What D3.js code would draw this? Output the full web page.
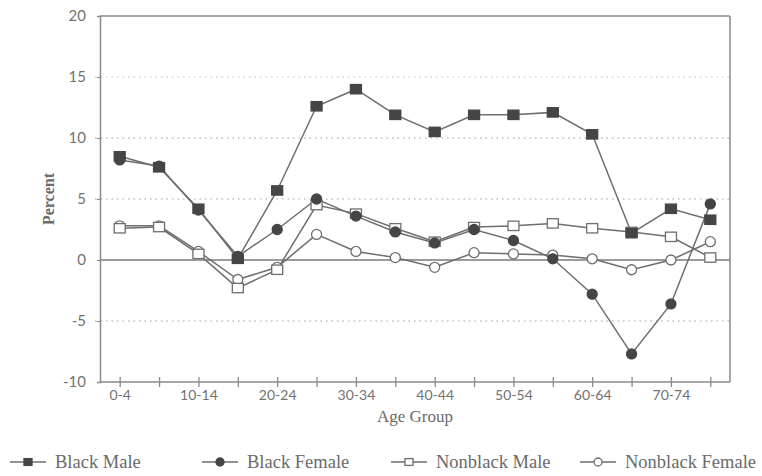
<!DOCTYPE html>
<html>
<head>
<meta charset="utf-8">
<script src="https://cdn.jsdelivr.net/npm/d3@7"></script>
<style>
  html, body { margin: 0; padding: 0; background: #fff; }
  svg { display: block; }
</style>
</head>
<body>
<svg id="chart" width="762" height="476"></svg>
<script>
// Age groups along the x axis
const ageGroups = ["0-4","5-9","10-14","15-19","20-24","25-29","30-34","35-39",
                   "40-44","45-49","50-54","55-59","60-64","65-69","70-74","75+"];
// Only every other group is labelled
const tickLabels = ["0-4","10-14","20-24","30-34","40-44","50-54","60-64","70-74"];
const yTicks = [-10, -5, 0, 5, 10, 15, 20];
const gridValues = [-5, 5, 10, 15];

// Percent change by age group
const blackMale      = [8.5, 7.6, 4.2, 0.1, 5.7, 12.6, 14.0, 11.9, 10.5, 11.9, 11.9, 12.1, 10.3, 2.2, 4.2, 3.3];
const blackFemale    = [8.2, 7.7, 4.1, 0.3, 2.5, 5.0, 3.6, 2.3, 1.4, 2.5, 1.6, 0.1, -2.8, -7.7, -3.6, 4.6];
const nonblackMale   = [2.6, 2.7, 0.5, -2.3, -0.8, 4.5, 3.8, 2.6, 1.5, 2.7, 2.8, 3.0, 2.6, 2.3, 1.9, 0.2];
const nonblackFemale = [2.8, 2.8, 0.7, -1.6, -0.6, 2.1, 0.7, 0.2, -0.6, 0.6, 0.5, 0.4, 0.1, -0.8, 0.0, 1.5];

const seriesNames = ["Black Male", "Black Female", "Nonblack Male", "Nonblack Female"];
const seriesData = [blackMale, blackFemale, nonblackMale, nonblackFemale];
const markerShape = ["square", "circle", "square", "circle"];
const markerFilled = [true, true, false, false];

const lineColor = "#6e6e6e";
const fillColor = "#454545";
const axisColor = "#8a8a8a";
const textColor = "#727272";
const tickFont = "Lato, 'Open Sans', sans-serif";
const serifFont = "'Liberation Serif', 'DejaVu Serif', serif";

const svg = d3.select("#chart");
const plotLeft = 100, plotRight = 730, plotTop = 16, plotBottom = 382;

const x = d3.scalePoint().domain(ageGroups).range([plotLeft, plotRight]).padding(0.5);
const y = d3.scaleLinear().domain([-10, 20]).range([plotBottom, plotTop]);

// dotted gridlines
svg.append("g").selectAll("line").data(gridValues).join("line")
  .attr("x1", plotLeft - 5).attr("x2", plotRight)
  .attr("y1", d => y(d)).attr("y2", d => y(d))
  .attr("stroke", d => d === 15 ? "#c4c4c4" : "#9e9e9e").attr("stroke-width", 1.2)
  .attr("stroke-dasharray", "1.5,4");

// frame: top and right border
svg.append("line").attr("x1", plotLeft).attr("x2", plotRight).attr("y1", y(20)).attr("y2", y(20))
  .attr("stroke", axisColor).attr("stroke-width", 1.5);
svg.append("line").attr("x1", plotRight).attr("x2", plotRight).attr("y1", y(20)).attr("y2", y(-10))
  .attr("stroke", axisColor).attr("stroke-width", 1.5);

// zero line
svg.append("line").attr("x1", plotLeft).attr("x2", plotRight).attr("y1", y(0)).attr("y2", y(0))
  .attr("stroke", "#7a7a7a").attr("stroke-width", 1.5);

// y axis
const yAxis = d3.axisLeft(y).tickValues(yTicks).tickSize(3).tickPadding(11)
  .tickFormat(d => String(d));
const gy = svg.append("g").attr("transform", `translate(${plotLeft},0)`).call(yAxis);
gy.select(".domain").attr("stroke", axisColor).attr("stroke-width", 1.5);
gy.selectAll(".tick line").attr("stroke", axisColor);
gy.selectAll(".tick text")
  .attr("fill", textColor)
  .style("font-family", tickFont)
  .style("font-size", "15px");

// x axis with ticks crossing the baseline
const xAxis = d3.axisBottom(x)
  .tickSizeInner(0).tickSizeOuter(0).tickPadding(8)
  .tickFormat(d => tickLabels.includes(d) ? d : "");
const gx = svg.append("g").attr("transform", `translate(0,${plotBottom})`).call(xAxis);
gx.select(".domain").attr("stroke", axisColor).attr("stroke-width", 1.5)
  .attr("d", `M${plotLeft},0H${plotRight}`);
gx.selectAll(".tick").append("line")
  .attr("y1", -5).attr("y2", 5).attr("stroke", axisColor).attr("stroke-width", 1.3);
gx.selectAll(".tick text")
  .attr("fill", textColor)
  .style("font-family", tickFont)
  .style("font-size", "14px");

// axis titles
svg.append("text")
  .attr("transform", `translate(54,${y(5)}) rotate(-90)`)
  .attr("text-anchor", "middle")
  .attr("fill", "#6a6a6a")
  .style("font-family", serifFont)
  .style("font-size", "16px").style("font-weight", "bold")
  .text("Percent");
svg.append("text")
  .attr("x", 415).attr("y", 422)
  .attr("text-anchor", "middle")
  .attr("fill", "#6a6a6a")
  .style("font-family", serifFont)
  .style("font-size", "17px")
  .text("Age Group");

function drawMarker(g, shape, filled, size) {
  if (shape === "square") {
    g.append("rect")
      .attr("x", -size / 2).attr("y", -size * 0.85 / 2)
      .attr("width", size).attr("height", size * 0.85)
      .attr("fill", filled ? fillColor : "#fff")
      .attr("stroke", filled ? fillColor : lineColor).attr("stroke-width", 1.3);
  } else {
    g.append("circle").attr("r", size / 2)
      .attr("fill", filled ? fillColor : "#fff")
      .attr("stroke", filled ? fillColor : lineColor).attr("stroke-width", 1.3);
  }
}

const line = d3.line().x((d, i) => x(ageGroups[i])).y(d => y(d));

// draw series: nonblack first so black markers sit on top
const order = [3, 2, 1, 0];
order.forEach(k => {
  svg.append("path").datum(seriesData[k])
    .attr("d", line).attr("fill", "none")
    .attr("stroke", lineColor).attr("stroke-width", 1.5);
});
order.forEach(k => {
  seriesData[k].forEach((v, i) => {
    const g = svg.append("g").attr("transform", `translate(${x(ageGroups[i])},${y(v)})`);
    drawMarker(g, markerShape[k], markerFilled[k], markerShape[k] === "square" ? 11 : 10);
  });
});

// legend: short line with marker, then the series name
const legendX = [10, 202, 391, 580];
const legendY = 462;
seriesNames.forEach((name, k) => {
  const g = svg.append("g").attr("transform", `translate(${legendX[k]},${legendY})`);
  g.append("line").attr("x1", 0).attr("x2", 36).attr("y1", 0).attr("y2", 0)
    .attr("stroke", lineColor).attr("stroke-width", 1.5);
  const m = g.append("g").attr("transform", "translate(18,0)");
  drawMarker(m, markerShape[k], markerFilled[k], 8);
  g.append("text").attr("x", 45).attr("y", 6)
    .attr("fill", "#6a6a6a")
    .style("font-family", serifFont)
    .style("font-size", "18.5px")
    .text(name);
});
</script>
</body>
</html>
